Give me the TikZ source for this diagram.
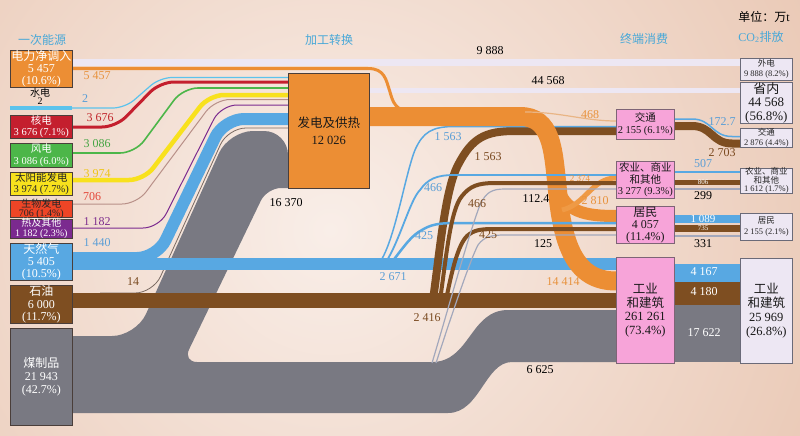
\documentclass[tikz,border=0pt]{standalone}
\usepackage{fontspec}
\setmainfont{Liberation Serif}
\newfontfamily\cjk{Noto Sans CJK SC}
\newcommand\fsz[2]{\fontsize{#1}{#2}\selectfont}
\definecolor{bgA}{HTML}{F9EEE8}
\definecolor{bgB}{HTML}{E2B69C}
\definecolor{cOr}{HTML}{EC8E34}
\definecolor{cOrL}{HTML}{E9B585}
\definecolor{cOrM}{HTML}{EF9A45}
\definecolor{cRed}{HTML}{C41F2E}
\definecolor{cGr}{HTML}{4CB649}
\definecolor{cYe}{HTML}{F8E11D}
\definecolor{cBio}{HTML}{EE4526}
\definecolor{cBioL}{HTML}{B89088}
\definecolor{cPu}{HTML}{7B2A8F}
\definecolor{cGas}{HTML}{58A8E2}
\definecolor{cHy}{HTML}{5CC3EC}
\definecolor{cBr}{HTML}{7E4E21}
\definecolor{cCoal}{HTML}{797982}
\definecolor{cThin}{HTML}{A3A8BC}
\definecolor{cFour}{HTML}{7A6A62}
\definecolor{cPink}{HTML}{F7A4D9}
\definecolor{cPkB}{HTML}{7E6476}
\definecolor{cLav}{HTML}{EDE7F3}
\definecolor{cLvB}{HTML}{6A6A78}
\definecolor{cHd}{HTML}{48A8D8}
\definecolor{bxl}{HTML}{4A3E3A}
\definecolor{tOr}{HTML}{E8923C}
\definecolor{tBl}{HTML}{5A9ED6}
\definecolor{tRed}{HTML}{C1272D}
\definecolor{tGr}{HTML}{45A543}
\definecolor{tYe}{HTML}{EEC516}
\definecolor{tBio}{HTML}{E4483A}
\definecolor{tPu}{HTML}{7E2E8E}
\definecolor{tBr}{HTML}{7A4A20}
\newcommand\mybox[8]{%
  \node[bx, fill=#2, minimum width=#5, minimum height=#6] (#1) at (#3,#4) {};
  \node[inner sep=0pt, align=center, #7] (#1t) at (#1.center) {#8};}
\begin{document}
\begin{tikzpicture}[x=1pt,y=-1pt,
  bx/.style={draw=bxl, line width=0.6pt, inner sep=0pt, anchor=north west},
  lb/.style={inner sep=0pt, font=\fsz{12}{12}},
  hd/.style={inner sep=0pt, font=\cjk\fsz{12}{12}, text=cHd},
]
\useasboundingbox (0,0) rectangle (800,436);
\begin{scope}
\clip (0,0) rectangle (800,436);
\shade[inner color=bgA, outer color=bgB] (330,230) circle (820);
\end{scope}

% lavender emission bars
\fill[cLav] (72,59) rectangle (740,66);
\fill[cLav] (369,88) rectangle (740,93);

% coal
\fill[cCoal] (72,336) [rounded corners=24pt] -- (136,336) -- (229,131) -- (288,131) [sharp corners] -- (288,188)
  [rounded corners=14pt] -- (267,188) -- (183,362) [sharp corners] -- (432,362)
  .. controls (470,362) and (470,310) .. (508,310) -- (616,310) -- (616,362) -- (512,362)
  .. controls (485,362) and (480,413) .. (448,413) -- (72,413) -- cycle;

% primary sources to power plant
\draw[cHy, line width=1.2pt, rounded corners=12pt] (72,108) -- (125,108) -- (160,77.5) -- (288,77.5);
\draw[cRed, line width=3pt, rounded corners=14pt] (72,127) -- (116,127) -- (160,82) -- (288,82);
\draw[cGr, line width=1.6pt, rounded corners=15pt] (72,153) -- (135,153) -- (183,88) -- (288,88);
\draw[cYe, line width=4.5pt, rounded corners=15pt] (72,180) -- (144,180) -- (209,95) -- (288,95);
\draw[cBioL, line width=1pt, rounded corners=15pt] (72,204) -- (137,204) -- (215,99.5) -- (288,99.5);
\draw[cPu, line width=1pt, rounded corners=16pt] (72,228) -- (159,228) -- (221,105) -- (288,105);
\draw[cGas, line width=12pt, rounded corners=20pt] (72,258) -- (157,258) -- (224,119) -- (288,119);
\draw[cFour, line width=0.8pt, rounded corners=18pt] (100,293) -- (153,293) -- (228,128) -- (288,128);

% gas and oil horizontal
\fill[cGas] (72,258) rectangle (616,270);
\fill[cBr] (72,293) rectangle (616,308);

% branches behind orange
\draw[cBr, line width=8pt] (433,300) .. controls (440,250) and (445,190) .. (458,165) .. controls (472,138) and (485,131) .. (515,131) -- (616,131);
\draw[cGas, line width=1.5pt] (380,262) .. controls (395,240) and (405,175) .. (415,150) .. controls (423,132) and (432,126.5) .. (455,126.5) -- (616,126.5);

% orange
\draw[cOr, line width=19pt] (369,116.5) -- (520,116.5) .. controls (552,116.5) and (553,150) .. (557,185) .. controls (562,245) and (575,281) .. (616,281);
\draw[cOr, line width=3pt] (72,68.5) -- (368,68.5) .. controls (385,68.5) and (386,80) .. (390,92) .. controls (393,103) and (396,110) .. (410,112);
\draw[cOr, line width=12pt] (558,186) .. controls (564,212) and (585,216) .. (616,216);
\draw[cOrM, line width=5pt] (562,210) .. controls (585,205) and (592,178) .. (616,178);
\draw[cOrL, line width=1.2pt] (525,112) .. controls (560,112) and (585,121) .. (616,121);

% other branches
\draw[cGas, line width=1.8pt] (386,262) .. controls (400,240) and (410,200) .. (420,190) .. controls (428,179) and (436,175) .. (455,175) -- (616,175);
\draw[cGas, line width=2.5pt] (392,262) .. controls (405,245) and (412,235) .. (422,230) .. controls (430,225) and (438,223) .. (455,223) -- (616,223);
\draw[cBr, line width=4pt] (440,300) .. controls (446,260) and (450,210) .. (462,196) .. controls (470,186) and (478,183) .. (495,183) -- (616,183);
\draw[cBr, line width=4pt] (446,300) .. controls (452,270) and (458,245) .. (467,236) .. controls (474,230) and (480,229) .. (495,229) -- (616,229);
\draw[cThin, line width=1.2pt] (432,363) .. controls (445,320) and (470,230) .. (480,205) .. controls (486,192) and (492,189) .. (505,189) -- (616,189);
\draw[cThin, line width=1.2pt] (436,363) .. controls (450,320) and (470,260) .. (478,245) .. controls (484,237) and (490,235) .. (505,235) -- (616,235);

% consumption to emission
\draw[cBr, line width=8pt] (674,126) -- (692,126) .. controls (712,126) and (712,143.5) .. (732,143.5) -- (740,143.5);
\draw[cGas, line width=1.5pt] (674,119) -- (692,119) .. controls (712,119) and (712,136.5) .. (732,136.5) -- (740,136.5);
\draw[cGas, line width=2pt] (674,172) -- (740,172);
\draw[cBr, line width=5pt] (674,182.5) -- (740,182.5);
\draw[cThin, line width=1.5pt] (674,189) -- (740,189);
\draw[cGas, line width=8pt] (674,219) -- (740,219);
\draw[cBr, line width=7pt] (674,228.5) -- (740,228.5);
\draw[cThin, line width=1.5pt] (674,236) -- (740,236);
\fill[cGas] (674,264) rectangle (740,282);
\fill[cBr] (674,282) rectangle (740,305);
\fill[cCoal] (674,305) rectangle (740,362);

% left boxes
\mybox{pn}{cOr}{10}{50}{62}{37}{text=white, font=\fsz{12}{12.2}}{{\cjk 电力净调入}\\5 457\\(10.6\%)}
\node[inner sep=0pt, font=\cjk\fsz{10}{10}] (hyl) at (40,93) {水电};
\node[inner sep=0pt, font=\fsz{10}{10}] (hyn) at (40,101) {2};
\node[bx, draw=none, fill=cHy, minimum width=62, minimum height=4] (hy) at (10,106) {};
\mybox{nu}{cRed}{10}{115}{62}{23}{text=white, font=\fsz{10.5}{11.5}}{{\cjk 核电}\\3 676 (7.1\%)}
\mybox{wi}{cGr}{10}{143}{62}{24}{text=white, font=\fsz{10.5}{11.5}}{{\cjk 风电}\\3 086 (6.0\%)}
\mybox{so}{cYe}{10}{172}{62}{23}{text=black!85, font=\fsz{10.5}{11.5}}{{\cjk 太阳能发电}\\3 974 (7.7\%)}
\mybox{bi}{cBio}{10}{200}{62}{17}{text=black!85, font=\fsz{10}{9.6}}{{\cjk 生物发电}\\706 (1.4\%)}
\mybox{he}{cPu}{10}{219}{62}{19}{text=white, font=\fsz{10}{10}}{{\cjk 热及其他}\\1 182 (2.3\%)}
\mybox{ga}{cGas}{10}{243}{62}{37}{text=white, font=\fsz{12}{12.2}}{{\cjk 天然气}\\5 405\\(10.5\%)}
\mybox{oi}{cBr}{10}{285}{62}{38}{text=white, font=\fsz{12}{12.2}}{{\cjk 石油}\\6 000\\(11.7\%)}
\mybox{co}{cCoal}{10}{328}{62}{97}{text=white, font=\fsz{12}{13}}{{\cjk 煤制品}\\21 943\\(42.7\%)}

% power plant
\mybox{pp}{cOr}{288}{73}{81}{115}{text=black!90, font=\fsz{12.5}{17}}{{\cjk 发电及供热}\\12 026}

% consumption
\tikzset{bx/.append style={draw=cPkB}}
\mybox{ct}{cPink}{616}{109}{58}{30}{text=black!90, font=\fsz{10.5}{12}}{{\cjk 交通}\\2 155 (6.1\%)}
\mybox{ca}{cPink}{616}{161}{58}{37}{text=black!90, font=\fsz{10.5}{11.5}}{{\cjk 农业、商业}\\{\cjk 和其他}\\3 277 (9.3\%)}
\mybox{cr}{cPink}{616}{206}{58}{37}{text=black!90, font=\fsz{12}{12}}{{\cjk 居民}\\4 057\\(11.4\%)}
\mybox{ci}{cPink}{616}{257}{58}{106}{text=black!90, font=\fsz{12.5}{13.5}}{{\cjk 工业}\\{\cjk 和建筑}\\261 261\\(73.4\%)}

% emissions
\tikzset{bx/.append style={draw=cLvB}}
\mybox{ew}{cLav}{740}{58}{52}{22}{text=black!85, font=\fsz{8.5}{10}}{{\cjk 外电}\\9 888 (8.2\%)}
\mybox{ep}{cLav}{740}{82}{52}{41}{text=black!90, font=\fsz{13}{13.5}}{{\cjk 省内}\\44 568\\(56.8\%)}
\mybox{et}{cLav}{740}{128}{52}{19}{text=black!85, font=\fsz{8.5}{9.5}}{{\cjk 交通}\\2 876 (4.4\%)}
\mybox{ea}{cLav}{740}{168}{52}{25}{text=black!85, font=\fsz{8.5}{8.5}}{{\cjk 农业、商业}\\{\cjk 和其他}\\1 612 (1.7\%)}
\mybox{er}{cLav}{740}{213}{52}{27}{text=black!85, font=\fsz{8.5}{11}}{{\cjk 居民}\\2 155 (2.1\%)}
\mybox{ei}{cLav}{740}{258}{52}{105}{text=black!90, font=\fsz{12.5}{14}}{{\cjk 工业}\\{\cjk 和建筑}\\25 969\\(26.8\%)}

% headers
\node[hd] (h1) at (42,40) {一次能源};
\node[hd] (h2) at (329,40) {加工转换};
\node[hd] (h3) at (644,39) {终端消费};
\node[inner sep=0pt, font=\fsz{12}{12}, text=cHd] (h4) at (761,37) {CO\textsubscript{2}{\cjk 排放}};
\node[inner sep=0pt, font=\fsz{12}{12}] (h5) at (764,17) {{\cjk 单位：万}t};

% flow labels
\node[lb, text=tOr] (l1) at (97,76) {5 457};
\node[lb, text=tBl] (l2) at (85,99) {2};
\node[lb, text=tRed] (l3) at (100,118) {3 676};
\node[lb, text=tGr] (l4) at (97,144) {3 086};
\node[lb, text=tYe] (l5) at (97,174) {3 974};
\node[lb, text=tBio] (l6) at (92,197) {706};
\node[lb, text=tPu] (l7) at (97,222) {1 182};
\node[lb, text=tBl] (l8) at (97,243) {1 440};
\node[lb, text=tBr] (l9) at (133,282) {14};
\node[lb] (l10) at (286,203) {16 370};
\node[lb] (l11) at (490,51) {9 888};
\node[lb] (l12) at (548,81) {44 568};
\node[lb, text=tBl] (l13) at (448,137) {1 563};
\node[lb, text=tBr] (l14) at (488,157) {1 563};
\node[lb, text=tBl] (l15) at (433,188) {466};
\node[lb, text=tBr] (l16) at (477,204) {466};
\node[lb, text=tBl] (l17) at (424,236) {425};
\node[lb, text=tBr] (l18) at (488,235) {425};
\node[lb] (l19) at (536,199) {112.4};
\node[lb] (l20) at (543,244) {125};
\node[lb, text=tBl] (l21) at (393,277) {2 671};
\node[lb, text=tBr] (l22) at (427,318) {2 416};
\node[lb] (l23) at (540,370) {6 625};
\node[lb, text=tOr] (l24) at (563,282) {14 414};
\node[lb, text=tOr] (l25) at (590,115) {468};
\node[inner sep=0pt, font=\fsz{9}{9}, text=tOr] (l26) at (580,179) {2 374};
\node[lb, text=tOr] (l27) at (595,201) {2 810};
\node[lb, text=tBl] (l28) at (722,122) {172.7};
\node[lb, text=tBr] (l29) at (722,153) {2 703};
\node[lb, text=tBl] (l30) at (703,164) {507};
\node[inner sep=0pt, font=\fsz{7}{7}, text=white] (l31) at (703,182.5) {806};
\node[lb] (l32) at (703,196) {299};
\node[inner sep=0pt, font=\fsz{11}{11}, text=white] (l33) at (703,219) {1 089};
\node[inner sep=0pt, font=\fsz{7}{7}, text=white] (l34) at (703,228.5) {735};
\node[lb] (l35) at (703,244) {331};
\node[lb, text=white] (l36) at (704,272) {4 167};
\node[lb, text=white] (l37) at (704,292) {4 180};
\node[lb, text=white] (l38) at (704,333) {17 622};
\end{tikzpicture}
\end{document}
